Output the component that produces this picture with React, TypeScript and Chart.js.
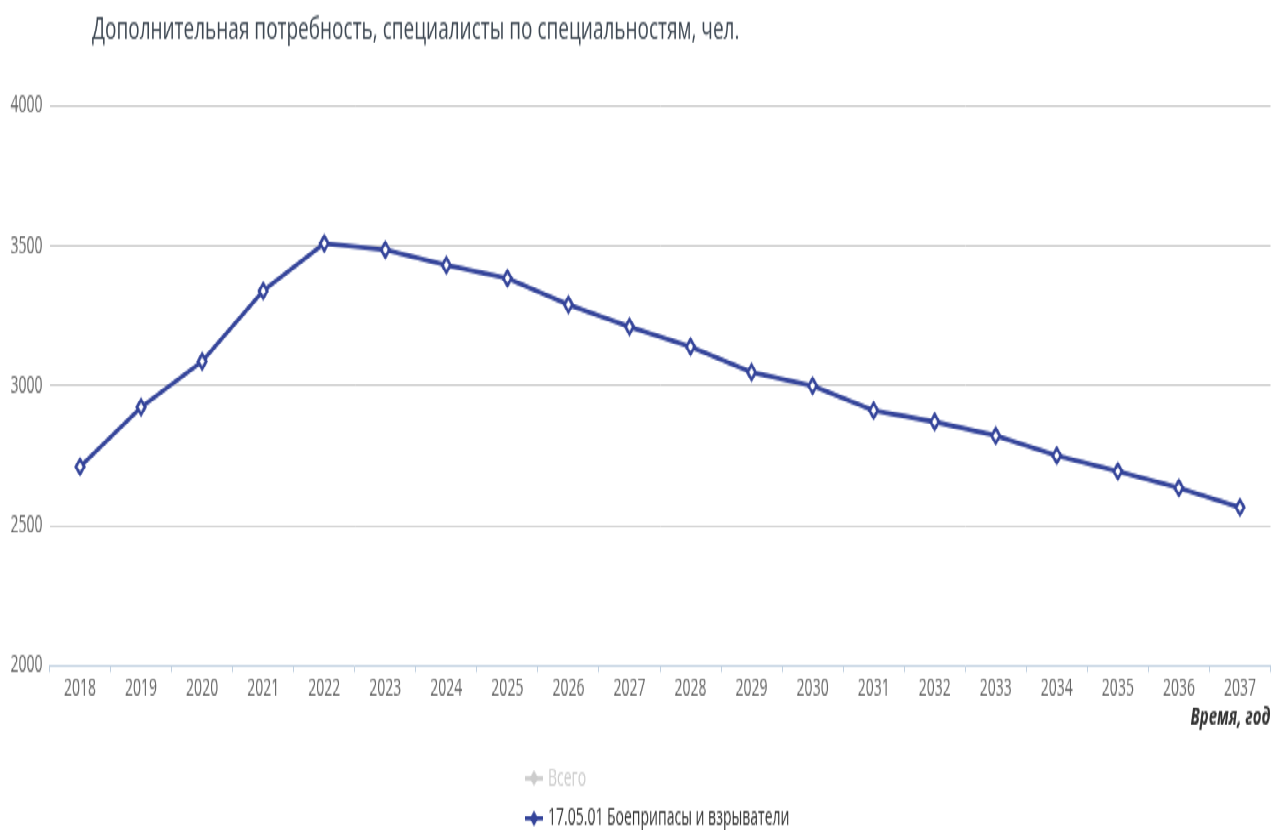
import React, { useEffect, useRef } from "react";
import { Chart, registerables } from "chart.js";

Chart.register(...registerables);

const TITLE = "Дополнительная потребность, специалисты по специальностям, чел.";
const X_TITLE = "Время, год";
const years = [
  "2018", "2019", "2020", "2021", "2022", "2023", "2024", "2025", "2026", "2027",
  "2028", "2029", "2030", "2031", "2032", "2033", "2034", "2035", "2036", "2037",
];
const totalLabel = "Всего";
const totalValues: number[] = [];
const ammoLabel = "17.05.01 Боеприпасы и взрыватели";
const ammoValues = [
  2710, 2923, 3087, 3339, 3509, 3486, 3431, 3384, 3290, 3211,
  3140, 3048, 3000, 2911, 2871, 2821, 2750, 2694, 2634, 2565,
];
const yMin = 2000;
const yMax = 4000;
const yStep = 500;

const W = 1272;
const H = 488;
const SY = 830 / H;
const FONT = "'Open Sans', 'DejaVu Sans', sans-serif";
const LINE_COLOR = "#34449a";

const titlePlugin = {
  id: "customTitle",
  afterDraw(chart: any) {
    const ctx = chart.ctx;
    ctx.save();
    ctx.font = `19px ${FONT}`;
    ctx.fillStyle = "#3d4752";
    ctx.textAlign = "left";
    ctx.textBaseline = "middle";
    ctx.fillText(TITLE, 92, 17.6);
    ctx.restore();
  },
};

function diamond(ctx: CanvasRenderingContext2D, x: number, y: number, r: number) {
  ctx.beginPath();
  ctx.moveTo(x, y - r);
  ctx.lineTo(x + r, y);
  ctx.lineTo(x, y + r);
  ctx.lineTo(x - r, y);
  ctx.closePath();
}

const legendPlugin = {
  id: "stackedLegend",
  afterDraw(chart: any) {
    const ctx = chart.ctx;
    const datasets = chart.data.datasets;
    ctx.save();
    datasets.forEach((ds: any, i: number) => {
      const visible = chart.isDatasetVisible(i);
      const y = 457.6 + i * 23.6;
      const col = visible ? ds.borderColor : "#cccccc";
      ctx.strokeStyle = col;
      ctx.lineWidth = 2.5;
      ctx.beginPath();
      ctx.moveTo(525, y);
      ctx.lineTo(543, y);
      ctx.stroke();
      diamond(ctx, 534, y, 4.5);
      ctx.fillStyle = col;
      ctx.fill();
      ctx.font = `14px ${FONT}`;
      ctx.fillStyle = visible ? "#333333" : "#cccccc";
      ctx.textAlign = "left";
      ctx.textBaseline = "middle";
      ctx.fillText(ds.label, 548, y);
    });
    ctx.restore();
  },
};

export default function App() {
  const ref = useRef<HTMLCanvasElement | null>(null);
  useEffect(() => {
    if (!ref.current) return;
    const chart = new Chart(ref.current, {
      type: "line",
      data: {
        labels: years,
        datasets: [
          {
            label: totalLabel,
            data: totalValues,
            hidden: true,
            borderColor: "#a0a0a0",
            backgroundColor: "#ffffff",
          },
          {
            label: ammoLabel,
            data: ammoValues,
            borderColor: LINE_COLOR,
            backgroundColor: "#ffffff",
            borderWidth: 2.8,
            pointStyle: "rectRot",
            pointRadius: 4.2,
            pointBorderWidth: 2.4,
            pointBackgroundColor: "#ffffff",
            pointBorderColor: LINE_COLOR,
            tension: 0,
          },
        ],
      },
      options: {
        animation: false,
        responsive: false,
        devicePixelRatio: 1,
        layout: { autoPadding: false, padding: { left: 0, right: 1.5, top: 62.4, bottom: 56.8 } },
        plugins: {
          legend: { display: false },
          title: { display: false },
          tooltip: { enabled: false },
        },
        scales: {
          x: {
            type: "category",
            offset: true,
            afterFit: (s: any) => {
              s.height = 40;
            },
            grid: {
              offset: true,
              drawOnChartArea: false,
              drawTicks: true,
              tickLength: 4,
              color: "#c0d0e0",
            },
            border: { display: true, color: "#c0d0e0", width: 1 },
            ticks: {
              padding: 1,
              maxRotation: 0,
              autoSkip: false,
              color: "#666666",
              font: { family: FONT, size: 14 },
            },
            title: {
              display: true,
              text: X_TITLE,
              align: "end",
              color: "#333333",
              padding: { top: 0, bottom: 0 },
              font: { family: FONT, size: 15, weight: "bold", style: "italic" },
            },
          },
          y: {
            min: yMin,
            max: yMax,
            afterFit: (s: any) => {
              s.width = 49.5;
            },
            grid: {
              drawTicks: false,
              color: (c: any) => (c.tick && c.tick.value === yMin ? "rgba(0,0,0,0)" : "#c8c8c8"),
            },
            border: { display: false },
            ticks: {
              stepSize: yStep,
              padding: 7,
              color: "#666666",
              font: { family: FONT, size: 14 },
              callback: (v: any) => String(v),
            },
          },
        },
      },
      plugins: [titlePlugin, legendPlugin],
    } as any);
    return () => chart.destroy();
  }, []);

  return (
    <div
      style={{
        position: "absolute",
        left: 0,
        top: 0,
        width: W,
        height: H,
        transform: `scaleY(${SY})`,
        transformOrigin: "0 0",
        background: "#ffffff",
      }}
    >
      <canvas ref={ref} width={W} height={H} style={{ display: "block", width: W, height: H }} />
    </div>
  );
}
